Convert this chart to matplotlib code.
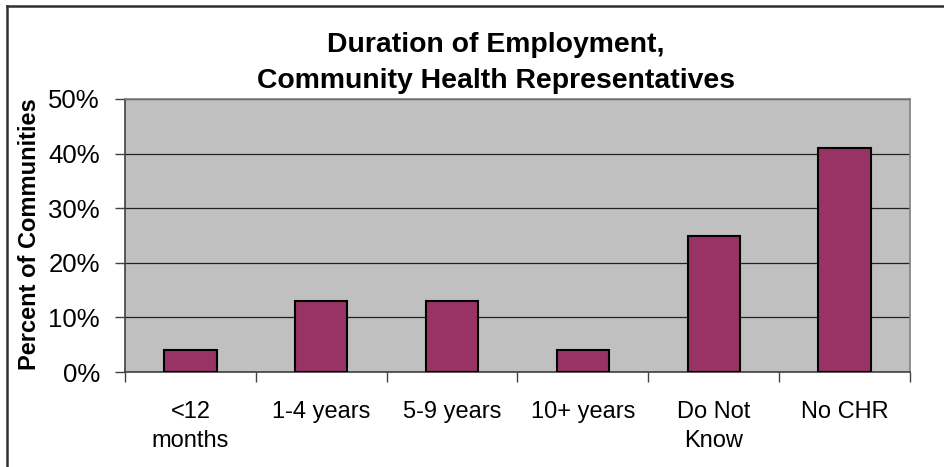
import matplotlib.pyplot as plt
from matplotlib.lines import Line2D

plt.rcParams['font.family'] = ['Liberation Sans', 'DejaVu Sans']

categories = ['<12\nmonths', '1-4 years', '5-9 years', '10+ years', 'Do Not\nKnow', 'No CHR']
percent = [4, 13, 13, 4, 25, 41]
yticks = [0, 10, 20, 30, 40, 50]

fig = plt.figure(figsize=(9.45, 4.67), dpi=100)
ax = fig.add_axes([125/945, 1 - 372/467, 785/945, 273/467])

ax.set_facecolor('#c0c0c0')
x = range(len(categories))
ax.bar(x, percent, width=0.4, color='#993366', edgecolor='black', linewidth=1.5, zorder=3)

ax.set_xlim(-0.5, len(categories) - 0.5)
ax.set_ylim(0, 50)
ax.set_yticks(yticks)
ax.set_yticklabels([f'{v}%' for v in yticks], fontsize=18.5)
ax.yaxis.grid(True, color='#202020', linewidth=0.9, zorder=1)

# category labels centred, tick marks between categories
ax.set_xticks([i - 0.5 for i in range(len(categories) + 1)])
ax.set_xticklabels([])
ax.set_xticks(list(x), minor=True)
ax.set_xticklabels(categories, minor=True, fontsize=17, linespacing=1.4)
ax.tick_params(axis='x', which='minor', length=0, pad=21)
ax.tick_params(axis='x', which='major', length=7, width=1, color='#404040')
ax.tick_params(axis='y', length=7, width=1, color='#404040', pad=11)

ax.spines['left'].set_color('#404040')
ax.spines['bottom'].set_color('#404040')
ax.spines['top'].set_color('#808080')
ax.spines['right'].set_color('#808080')
for s in ax.spines.values():
    s.set_linewidth(1.2)

ax.set_ylabel('Percent of Communities', fontsize=17, fontweight='bold')
ax.yaxis.set_label_coords(-0.107, 0.505)

fig.text(496/945, 1 - 63/467, 'Duration of Employment,\nCommunity Health Representatives',
         ha='center', va='center', fontsize=20.4, fontweight='bold', linespacing=1.45)

# chart frame (left and top edge only visible)
fig.add_artist(Line2D([7.5/945, 7.5/945], [0, 1 - 5.5/467], color='#303030', linewidth=1.8,
                      transform=fig.transFigure))
fig.add_artist(Line2D([7.5/945, 1], [1 - 5.5/467, 1 - 5.5/467], color='#303030', linewidth=1.8,
                      transform=fig.transFigure))

fig.savefig('out.png', dpi=100)
